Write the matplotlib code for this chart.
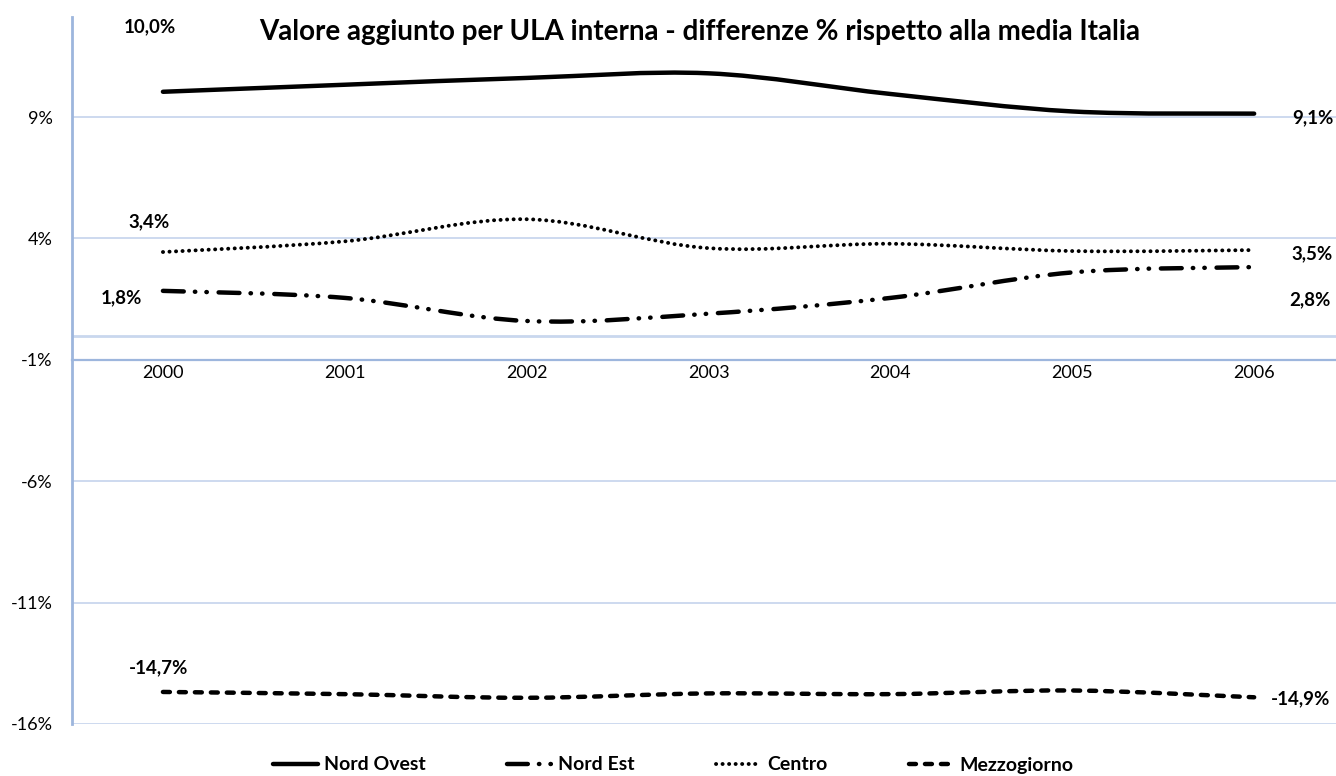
import matplotlib
matplotlib.use('Agg')
import matplotlib.pyplot as plt
from matplotlib.path import Path
from matplotlib.patches import PathPatch
from matplotlib.lines import Line2D

plt.rcParams['font.family'] = ['Lato', 'DejaVu Sans']
plt.rcParams['lines.scale_dashes'] = False

# dati (differenza % rispetto alla media Italia)
anni = ['2000', '2001', '2002', '2003', '2004', '2005', '2006']
nord_ovest = [10.04, 10.33, 10.61, 10.80, 9.95, 9.23, 9.14]
nord_est = [1.84, 1.55, 0.60, 0.90, 1.55, 2.60, 2.82]
centro = [3.44, 3.88, 4.79, 3.60, 3.78, 3.48, 3.52]
mezzogiorno = [-14.68, -14.77, -14.92, -14.74, -14.77, -14.62, -14.90]
y_ticks = [-16, -11, -6, -1, 4, 9]

serie = [
    ('Nord Ovest', nord_ovest, '-', (-13, 65), (59, -4)),
    ('Nord Est', nord_est, (0, (15, 8, 0.3, 8, 0.3, 8.5)), (-42, -7), (56, -33)),
    ('Centro', centro, (0, (0.1, 4.6)), (-14, 30), (58, -4)),
    ('Mezzogiorno', mezzogiorno, (0, (5, 6.5)), (-4, 24), (46, -1)),
]
larghezze = {'Nord Ovest': 3.2, 'Nord Est': 3.2, 'Centro': 2.8, 'Mezzogiorno': 3.2}


def curva(xs, ys):
    # smoothed line as cubic bezier segments (Excel-like)
    pts = list(zip(xs, ys))
    verts = [pts[0]]
    codes = [Path.MOVETO]
    n = len(pts)
    for i in range(n - 1):
        p0 = pts[max(i - 1, 0)]
        p1 = pts[i]
        p2 = pts[i + 1]
        p3 = pts[min(i + 2, n - 1)]
        c1 = (p1[0] + (p2[0] - p0[0]) / 6, p1[1] + (p2[1] - p0[1]) / 6)
        c2 = (p2[0] - (p3[0] - p1[0]) / 6, p2[1] - (p3[1] - p1[1]) / 6)
        verts += [c1, c2, p2]
        codes += [Path.CURVE4] * 3
    return Path(verts, codes)


fig = plt.figure(figsize=(13.36, 7.76), dpi=100)
ax = fig.add_axes([72 / 1336, 1 - 724 / 776, 1 - 72 / 1336, (724 - 17) / 776])

grid_col = '#c9d7ee'
axis_col = '#9db6dd'

for s in ['top', 'right']:
    ax.spines[s].set_visible(False)
ax.spines['left'].set_color(axis_col)
ax.spines['left'].set_linewidth(2)
ax.spines['bottom'].set_position(('data', -1))
ax.spines['bottom'].set_color(axis_col)
ax.spines['bottom'].set_linewidth(1.6)

x = list(range(len(anni)))
ax.set_xlim(-0.5, 6.45)
ax.set_ylim(-16, 13.12)
ax.set_yticks(y_ticks)
ax.set_yticklabels([f'{v}%' for v in y_ticks], fontsize=13)
ax.set_xticks(x)
ax.set_xticklabels(anni, fontsize=13)
ax.tick_params(axis='both', length=0)
ax.tick_params(axis='y', pad=14)
ax.tick_params(axis='x', pad=4)
ax.yaxis.grid(True, color=grid_col, lw=1.3)
ax.axhline(0, color=grid_col, lw=2.0, zorder=1)
ax.set_axisbelow(True)

handles = []
for nome, vals, ls, off0, off1 in serie:
    lw = larghezze[nome]
    patch = PathPatch(curva(x, vals), fill=False, edgecolor='black', lw=lw,
                      linestyle=ls, capstyle='round', joinstyle='round', zorder=3)
    ax.add_patch(patch)
    for idx, off in [(0, off0), (len(vals) - 1, off1)]:
        ax.annotate(f'{vals[idx]:.1f}%'.replace('.', ','), (x[idx], vals[idx]),
                    xytext=off, textcoords='offset pixels', ha='center', va='center',
                    fontsize=13.5, fontweight='bold', annotation_clip=False)
    handles.append(Line2D([], [], color='black', lw=lw, linestyle=ls,
                          dash_capstyle='round', solid_capstyle='round', label=nome))

fig.text(0.524, 1 - 32 / 776, 'Valore aggiunto per ULA interna - differenze % rispetto alla media Italia',
         ha='center', va='center', fontsize=20, fontweight='bold')

fig.legend(handles=handles, loc='center', bbox_to_anchor=(0.504, 1 - 765 / 776), ncol=4,
           frameon=False, handlelength=2.3, handletextpad=0.3, columnspacing=4.2,
           prop={'weight': 'bold', 'size': 14})

fig.savefig('out.png', dpi=100)
